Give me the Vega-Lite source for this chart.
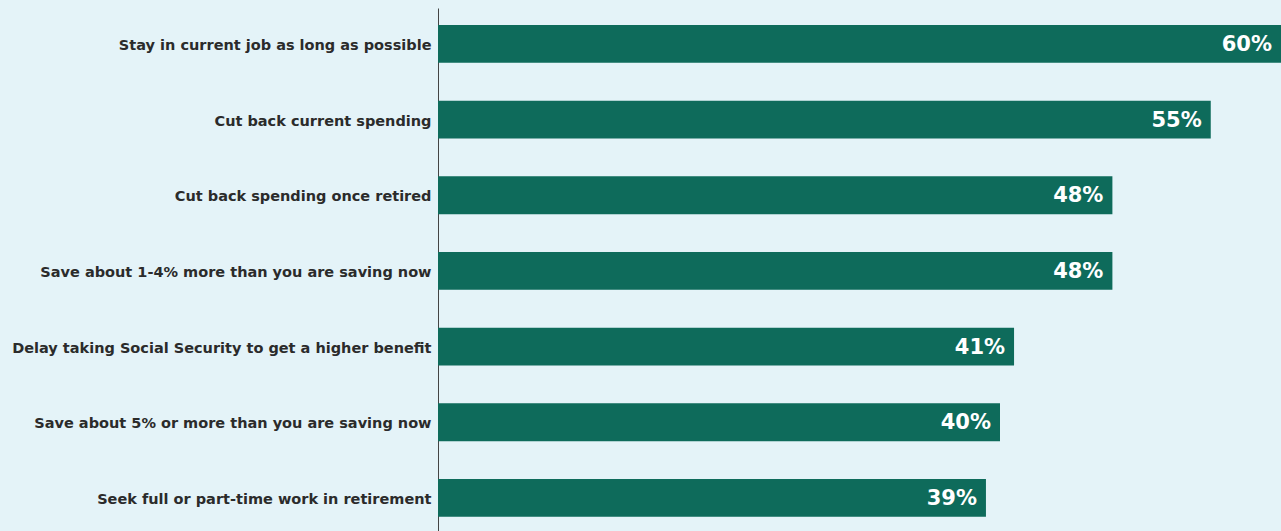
{
  "$schema": "https://vega.github.io/schema/vega-lite/v6.json",
  "width": 843,
  "height": 523,
  "autosize": {"type": "none"},
  "padding": {"left": 438, "top": 8, "right": 0, "bottom": 0},
  "background": "#e4f3f8",
  "config": {"view": {"stroke": null}, "font": "DejaVu Sans"},
  "data": {"values": [
    {"item": "Stay in current job as long as possible", "pct": 0.60},
    {"item": "Cut back current spending", "pct": 0.55},
    {"item": "Cut back spending once retired", "pct": 0.48},
    {"item": "Save about 1-4% more than you are saving now", "pct": 0.48},
    {"item": "Delay taking Social Security to get a higher benefit", "pct": 0.41},
    {"item": "Save about 5% or more than you are saving now", "pct": 0.40},
    {"item": "Seek full or part-time work in retirement", "pct": 0.39}
  ]},
  "encoding": {
    "y": {"field": "item", "type": "nominal", "sort": null,
      "scale": {"paddingInner": 0.5, "paddingOuter": 0.206, "align": 0.545},
      "axis": {"title": null, "ticks": false, "labelFontSize": 14.5, "labelFontWeight": "bold", "labelColor": "#2b2b2b", "labelPadding": 7, "labelOffset": 2, "domainColor": "#444444", "labelLimit": 500, "labelFont": "DejaVu Sans"}},
    "x": {"field": "pct", "type": "quantitative", "scale": {"domain": [0, 0.6]}, "axis": null}
  },
  "layer": [
    {"mark": {"type": "bar", "color": "#0e6b5b"}},
    {"mark": {"type": "text", "align": "right", "dx": -9, "dy": 1, "color": "white", "fontSize": 21, "fontWeight": "bold", "baseline": "middle"},
     "encoding": {"text": {"field": "pct", "type": "quantitative", "format": ".0%"}}}
  ]
}
